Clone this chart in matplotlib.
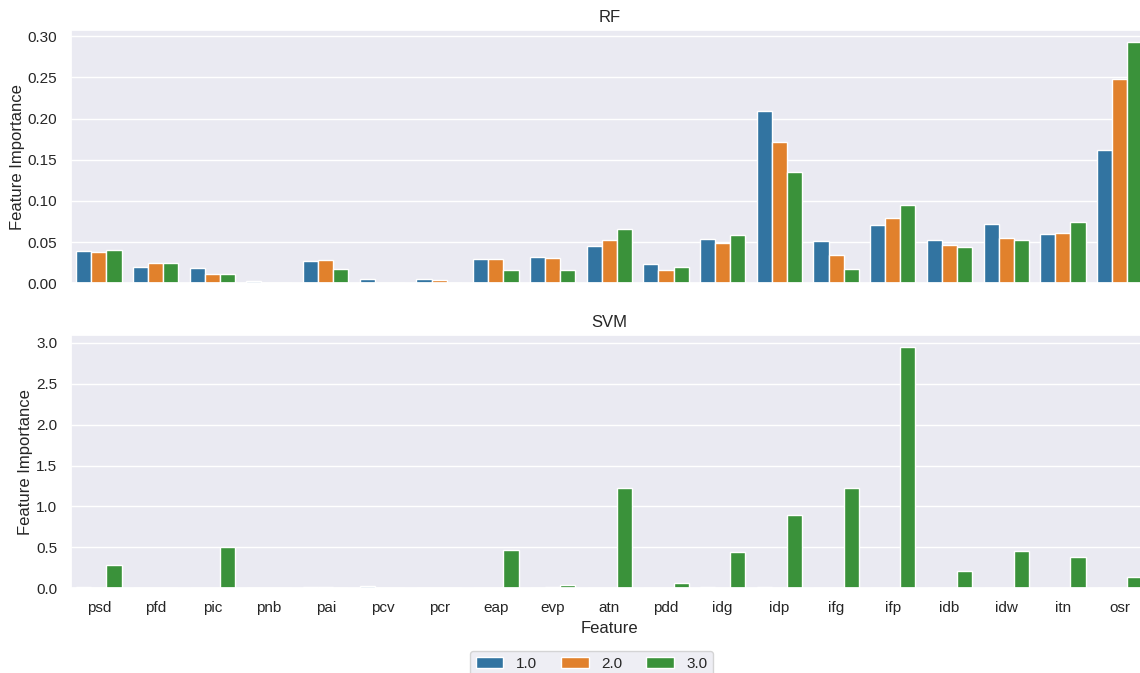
import pandas as pd
import matplotlib
matplotlib.use('Agg')
import matplotlib.pyplot as plt
import seaborn as sns

features = ['psd', 'pfd', 'pic', 'pnb', 'pai', 'pcv', 'pcr', 'eap', 'evp', 'atn',
            'pdd', 'idg', 'idp', 'ifg', 'ifp', 'idb', 'idw', 'itn', 'osr']
classes = ['1.0', '2.0', '3.0']

# RF feature importance, one list per class
rf_1 = [0.039, 0.020, 0.018, 0.0024, 0.0275, 0.0045, 0.0055, 0.0297, 0.0318, 0.0455,
        0.0233, 0.0534, 0.2095, 0.0518, 0.0709, 0.0522, 0.0722, 0.0593, 0.162]
rf_2 = [0.038, 0.024, 0.0114, 0.0006, 0.0283, 0.0008, 0.0035, 0.0297, 0.0302, 0.0524,
        0.0164, 0.0494, 0.172, 0.0345, 0.0797, 0.0466, 0.0552, 0.0609, 0.2478]
rf_3 = [0.040, 0.024, 0.011, 0.0, 0.0178, 0.0, 0.0, 0.0157, 0.0164, 0.0661,
        0.0193, 0.0587, 0.1355, 0.017, 0.0951, 0.0445, 0.0528, 0.0747, 0.293]

# SVM feature importance, one list per class
svm_1 = [0.01, 0.0, 0.0, 0.0, 0.01, 0.03, 0.0, 0.0, 0.0, 0.0,
         0.0, 0.01, 0.01, 0.0, 0.0, 0.0, 0.0, 0.0, 0.0]
svm_2 = [0.0, 0.0, 0.0, 0.0, 0.01, 0.0, 0.0, 0.0, 0.02, 0.0,
         0.0, 0.0, 0.0, 0.0, 0.0, 0.0, 0.0, 0.0, 0.0]
svm_3 = [0.29, 0.0, 0.51, 0.0, 0.0, 0.0, 0.0, 0.465, 0.045, 1.23,
         0.07, 0.44, 0.89, 1.22, 2.95, 0.21, 0.454, 0.377, 0.141]


def to_long(series_list):
    rows = []
    for cls, vals in zip(classes, series_list):
        for f, v in zip(features, vals):
            rows.append({'Feature': f, 'Class': cls, 'Feature Importance': v})
    return pd.DataFrame(rows)


rf_df = to_long([rf_1, rf_2, rf_3])
svm_df = to_long([svm_1, svm_2, svm_3])

sns.set_theme(style='darkgrid')
plt.rcParams['font.family'] = ['Liberation Sans', 'DejaVu Sans']

fig = plt.figure(figsize=(11.4, 6.73), dpi=100)
ax_rf = fig.add_axes([0.0619, 0.5792, 0.9451, 0.3762])
ax_svm = fig.add_axes([0.0619, 0.1259, 0.9451, 0.3764])

palette = sns.color_palette('tab10', 3)

sns.barplot(data=rf_df, x='Feature', y='Feature Importance', hue='Class',
            palette=palette, ax=ax_rf, legend=False)
sns.barplot(data=svm_df, x='Feature', y='Feature Importance', hue='Class',
            palette=palette, ax=ax_svm)

ax_rf.set_title('RF', fontsize=12)
ax_svm.set_title('SVM', fontsize=12)
ax_rf.set_xlabel('')
ax_rf.set_xticklabels([])
ax_svm.set_xlabel('Feature', fontsize=12)
for ax in (ax_rf, ax_svm):
    ax.set_ylabel('Feature Importance', fontsize=12, labelpad=2)
    ax.tick_params(labelsize=11)

handles, labels = ax_svm.get_legend_handles_labels()
ax_svm.get_legend().remove()
fig.legend(handles, labels, loc='upper center', ncol=3, fontsize=11,
           handlelength=1.8, columnspacing=1.6,
           bbox_to_anchor=(591.5 / 1140, 1 - 643 / 673))

fig.savefig('out.png', dpi=100)
